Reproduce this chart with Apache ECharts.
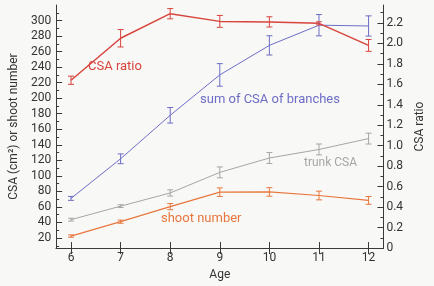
<!DOCTYPE html>
<html>
<head>
<meta charset="utf-8">
<script src="https://cdn.jsdelivr.net/npm/echarts@6/dist/echarts.min.js"></script>
<style>
  html, body { margin: 0; padding: 0; background: #f8f8f7; }
  #chart { width: 434px; height: 286px; }
</style>
</head>
<body>
<div id="chart"></div>
<script>
// ages on the x axis
var ages = [6, 7, 8, 9, 10, 11, 12];

// CSA ratio (right axis) with error half-widths
var csaRatio = [1.64, 2.05, 2.29, 2.215, 2.21, 2.196, 1.98];
var csaRatioErr = [0.04, 0.085, 0.05, 0.058, 0.05, 0.015, 0.058];

// sum of CSA of branches (left axis)
var branchCsa = [71, 122, 178, 230, 268, 294, 293];
var branchCsaErr = [2.5, 6.3, 10, 14.5, 12.4, 13.7, 13];

// trunk CSA (left axis)
var trunkCsa = [43.6, 61, 78, 104.5, 123, 134, 148];
var trunkCsaErr = [1.8, 1.8, 4, 7, 7, 7, 7];

// shoot number (left axis)
var shootNum = [22.5, 41, 60.4, 79, 79.3, 74.7, 68.4];
var shootNumErr = [1.5, 2, 4, 5.5, 5.5, 5.6, 5];

// tick labels
var leftTicks = [20, 40, 60, 80, 100, 120, 140, 160, 180, 200, 220, 240, 260, 280, 300];
var leftMinorTicks = [10, 30, 50, 70, 90, 110, 130, 150, 170, 190, 210, 230, 250, 270, 290, 310];
var rightTicks = [0, 0.2, 0.4, 0.6, 0.8, 1.0, 1.2, 1.4, 1.6, 1.8, 2.0, 2.2];

var RED = '#d8453d', BLUE = '#6d6dc6', GRAY = '#a6a6a6', ORANGE = '#e8773d';
var AXIS = '#3a3a3a';
var FONT = 'Roboto';

function pairs(vals) {
  return ages.map(function (a, i) { return [a, vals[i]]; });
}
function errs(vals, e) {
  return ages.map(function (a, i) { return [a, vals[i] - e[i], vals[i] + e[i]]; });
}
function errRender(color) {
  return function (params, api) {
    var x = api.value(0);
    var lo = api.coord([x, api.value(1)]);
    var hi = api.coord([x, api.value(2)]);
    var w = 3;
    var st = { stroke: color, lineWidth: 1 };
    return {
      type: 'group',
      children: [
        { type: 'line', shape: { x1: lo[0], y1: lo[1], x2: hi[0], y2: hi[1] }, style: st },
        { type: 'line', shape: { x1: lo[0] - w, y1: lo[1], x2: lo[0] + w, y2: lo[1] }, style: st },
        { type: 'line', shape: { x1: hi[0] - w, y1: hi[1], x2: hi[0] + w, y2: hi[1] }, style: st }
      ]
    };
  };
}
function lineSeries(name, vals, color, yIdx, width) {
  return {
    name: name, type: 'line', yAxisIndex: yIdx, data: pairs(vals),
    symbol: 'none', lineStyle: { color: color, width: width }, z: 2, animation: false
  };
}
function errSeries(vals, e, color, yIdx) {
  return {
    type: 'custom', yAxisIndex: yIdx, data: errs(vals, e),
    encode: { x: 0, y: [1, 2] }, renderItem: errRender(color), z: 3, animation: false
  };
}

var chart = echarts.init(document.getElementById('chart'));
chart.setOption({
  backgroundColor: '#f8f8f7',
  animation: false,
  grid: { left: 41, right: 30, top: 5, bottom: 33 },
  xAxis: [{
    type: 'value', min: 5.7, max: 12.3, position: 'bottom',
    name: 'Age', nameLocation: 'middle', nameGap: 18,
    nameTextStyle: { color: '#333', fontFamily: FONT, fontSize: 12 },
    axisLine: { show: true, lineStyle: { color: AXIS } },
    axisTick: { show: true, inside: true, length: 6, customValues: ages, lineStyle: { color: AXIS } },
    axisLabel: { customValues: ages, color: '#333', fontFamily: FONT, fontSize: 12, margin: 4 },
    splitLine: { show: false }
  }, {
    type: 'value', min: 5.7, max: 12.3, position: 'top',
    axisLine: { show: true, lineStyle: { color: AXIS } },
    axisTick: { show: true, inside: true, length: 6, customValues: ages, lineStyle: { color: AXIS } },
    axisLabel: { show: false },
    splitLine: { show: false }
  }],
  yAxis: [{
    type: 'value', min: 7, max: 320, position: 'left',
    name: 'CSA (cm²) or shoot number', nameLocation: 'middle', nameGap: 25, nameRotate: 90,
    nameTextStyle: { color: '#333', fontFamily: FONT, fontSize: 12 },
    axisLine: { show: true, lineStyle: { color: AXIS } },
    axisTick: { show: true, inside: true, length: 6, customValues: leftTicks, lineStyle: { color: AXIS } },
    axisLabel: { customValues: leftTicks, color: '#333', fontFamily: FONT, fontSize: 12, margin: 5 },
    splitLine: { show: false }
  }, {
    type: 'value', min: 0, max: 2.375, position: 'right',
    name: 'CSA ratio', nameLocation: 'middle', nameGap: 17, nameRotate: 90,
    nameTextStyle: { color: '#333', fontFamily: FONT, fontSize: 12 },
    axisLine: { show: true, lineStyle: { color: AXIS } },
    axisTick: { show: true, inside: true, length: 6, customValues: rightTicks, lineStyle: { color: AXIS } },
    axisLabel: {
      customValues: rightTicks, color: '#333', fontFamily: FONT, fontSize: 12, margin: 3,
      formatter: function (v) { return v === 0 ? '0' : v.toFixed(1); }
    },
    splitLine: { show: false }
  }, {
    type: 'value', min: 7, max: 320, position: 'left',
    axisLine: { show: false },
    axisTick: { show: true, inside: true, length: 3, customValues: leftMinorTicks, lineStyle: { color: AXIS } },
    axisLabel: { show: false },
    splitLine: { show: false }
  }, {
    type: 'value', min: 0, max: 2.375, position: 'right',
    axisLine: { show: false },
    axisTick: { show: true, inside: true, length: 3,
      customValues: rightTicks.map(function (v) { return v + 0.1; }), lineStyle: { color: AXIS } },
    axisLabel: { show: false },
    splitLine: { show: false }
  }],
  series: [
    lineSeries('shoot number', shootNum, ORANGE, 0, 1.2),
    errSeries(shootNum, shootNumErr, ORANGE, 0),
    lineSeries('trunk CSA', trunkCsa, GRAY, 0, 1),
    errSeries(trunkCsa, trunkCsaErr, GRAY, 0),
    lineSeries('sum of CSA of branches', branchCsa, BLUE, 0, 1),
    errSeries(branchCsa, branchCsaErr, BLUE, 0),
    lineSeries('CSA ratio', csaRatio, RED, 1, 1.5),
    errSeries(csaRatio, csaRatioErr, RED, 1)
  ],
  graphic: [
    { type: 'text', x: 88, y: 67, style: { text: 'CSA ratio', fill: RED, font: '13px ' + FONT, verticalAlign: 'middle' } },
    { type: 'text', x: 200, y: 100, style: { text: 'sum of CSA of branches', fill: BLUE, font: '13px ' + FONT, verticalAlign: 'middle' } },
    { type: 'text', x: 304, y: 163, style: { text: 'trunk CSA', fill: GRAY, font: '12px ' + FONT, verticalAlign: 'middle' } },
    { type: 'text', x: 161, y: 219, style: { text: 'shoot number', fill: ORANGE, font: '13px ' + FONT, verticalAlign: 'middle' } }
  ]
});
</script>
</body>
</html>
